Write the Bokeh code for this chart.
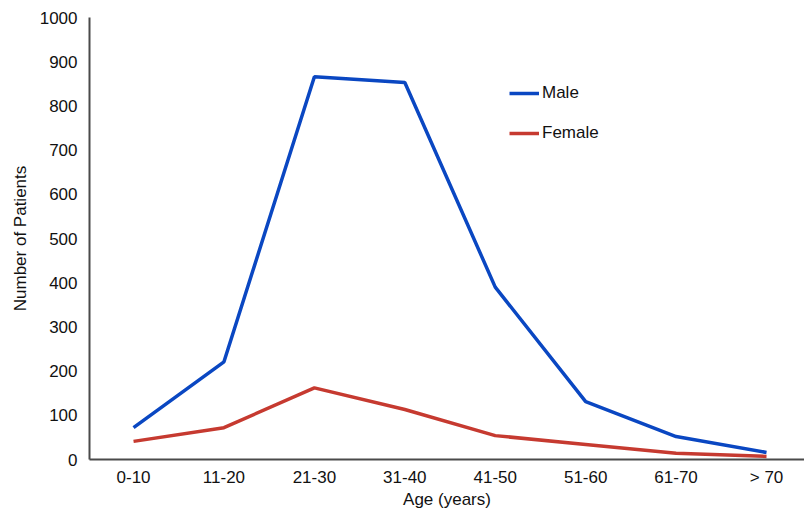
from bokeh.plotting import figure
from bokeh.models import FixedTicker, Range1d, Legend, LegendItem
from bokeh.embed import file_html
from bokeh.resources import INLINE

age_groups = ["0-10", "11-20", "21-30", "31-40", "41-50", "51-60", "61-70", "> 70"]
male = [72, 221, 866, 853, 390, 131, 52, 16]
female = [41, 72, 162, 113, 54, 34, 14, 7]
y_ticks = [0, 100, 200, 300, 400, 500, 600, 700, 800, 900, 1000]

xs = list(range(len(age_groups)))

FONT = "Liberation Sans"

p = figure(width=804, height=511, output_backend="svg", toolbar_location=None,
           x_range=Range1d(-0.487, 7.42), y_range=Range1d(0, 1000),
           min_border_left=89, min_border_top=17, min_border_bottom=51, min_border_right=0)
p.outline_line_color = None
p.xgrid.grid_line_color = None
p.ygrid.grid_line_color = None

r_m = p.line(xs, male, line_color="#0a47c2", line_width=3.5)
r_f = p.line(xs, female, line_color="#c63a30", line_width=3.5)

for ax in (p.xaxis[0], p.yaxis[0]):
    ax.axis_line_color = "#4a4a4a"
    ax.axis_line_width = 2
    ax.major_tick_line_color = None
    ax.minor_tick_line_color = None
    ax.major_label_text_font = FONT
    ax.major_label_text_font_size = "17px"
    ax.major_label_text_color = "#111111"
    ax.axis_label_text_font = FONT
    ax.axis_label_text_font_size = "17px"
    ax.axis_label_text_font_style = "normal"
    ax.axis_label_text_color = "#111111"

p.xaxis.ticker = FixedTicker(ticks=xs)
p.xaxis.major_label_overrides = {i: lab for i, lab in enumerate(age_groups)}
p.xaxis.major_label_standoff = 2
p.xaxis.axis_label = "Age (years)"
p.xaxis.axis_label_standoff = 0

p.yaxis.ticker = FixedTicker(ticks=y_ticks)
p.yaxis.major_label_standoff = 6
p.yaxis.axis_label = "Number of Patients"
p.yaxis.axis_label_standoff = 7

legend = Legend(items=[LegendItem(label="Male", renderers=[r_m]),
                       LegendItem(label="Female", renderers=[r_f])],
                location=(420, 316))
legend.border_line_color = None
legend.background_fill_alpha = 0
legend.glyph_width = 30
legend.label_standoff = 3
legend.spacing = 20
legend.label_text_font = FONT
legend.label_text_font_size = "17px"
legend.label_text_color = "#111111"
p.add_layout(legend)

open("out.html", "w").write(file_html(p, INLINE))
